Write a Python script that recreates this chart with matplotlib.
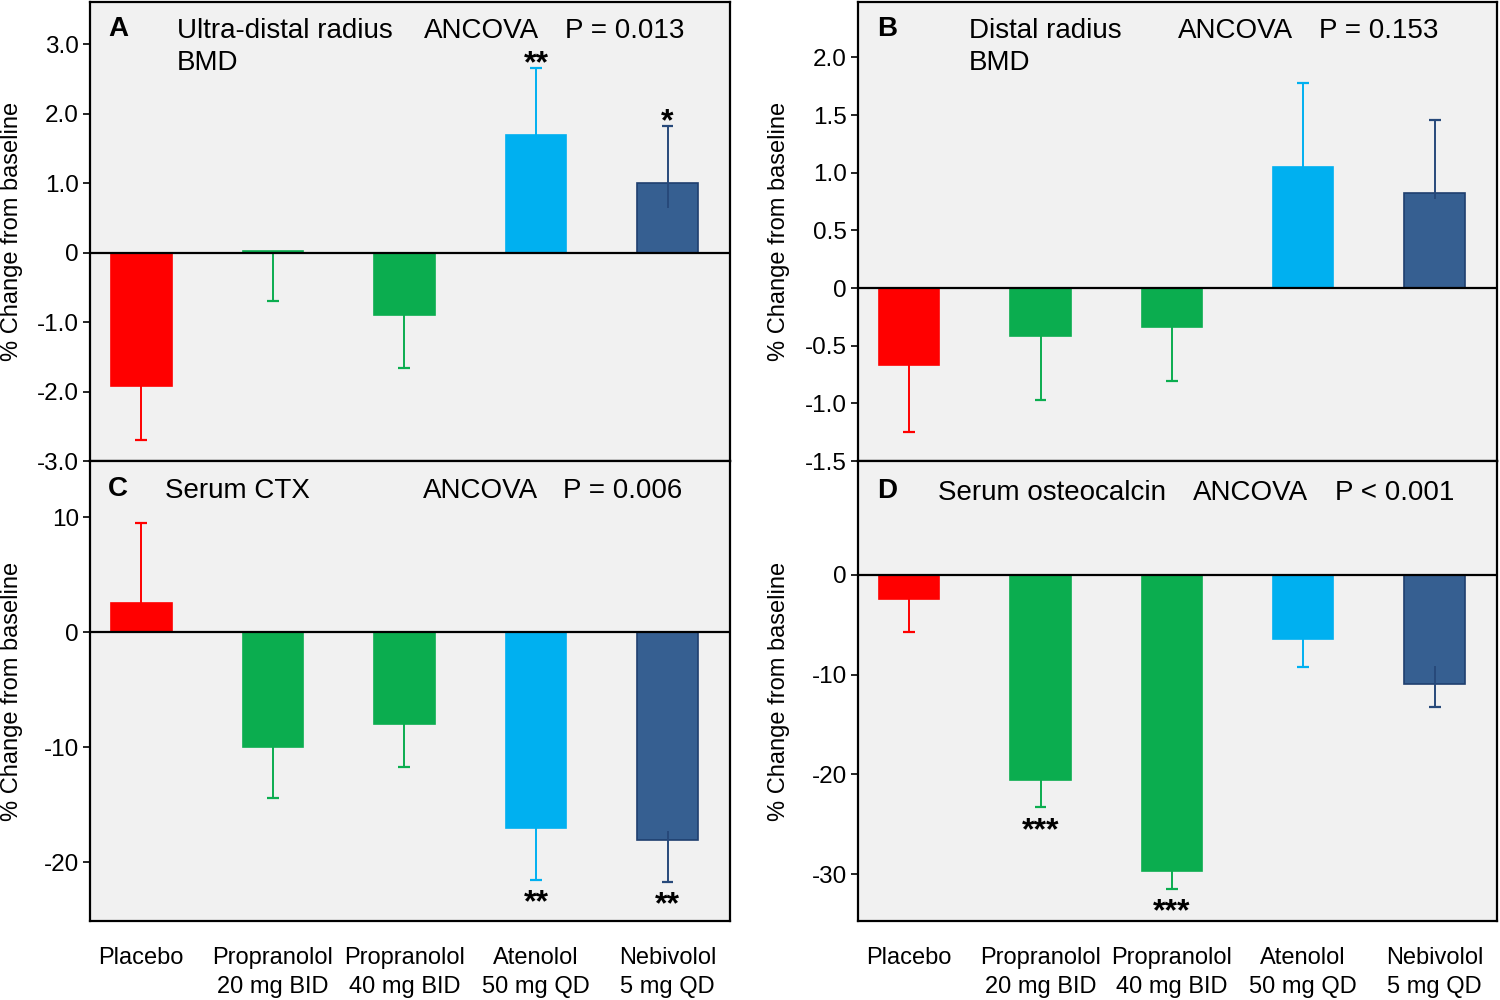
import matplotlib
matplotlib.use('Agg')
import matplotlib.pyplot as plt
import numpy as np

plt.rcParams['font.family'] = ['Liberation Sans', 'DejaVu Sans']
plt.rcParams['axes.unicode_minus'] = False

groups = ["Placebo", "Propranolol\n20 mg BID", "Propranolol\n40 mg BID",
          "Atenolol\n50 mg QD", "Nebivolol\n5 mg QD"]
bar_colors = ['#FF0000', '#0BAD4F', '#0BAD4F', '#00B0F0', '#365F91']
edge_colors = ['#FF0000', '#0BAD4F', '#0BAD4F', '#00B0F0', '#1F3F6F']
err_colors = ['#FF0000', '#0BAD4F', '#0BAD4F', '#00B0F0', '#27497A']

# Panel A: Ultra-distal radius BMD
a_vals = [-1.92, 0.03, -0.90, 1.70, 1.00]
a_minus = [0.78, 0.73, 0.76, 0.00, 0.35]
a_plus = [0.00, 0.00, 0.00, 0.96, 0.82]
a_stars = ['', '', '', '**', '*']
a_ticks = [3.0, 2.0, 1.0, 0, -1.0, -2.0, -3.0]
a_ticklabels = ['3.0', '2.0', '1.0', '0', '-1.0', '-2.0', '-3.0']

# Panel B: Distal radius BMD
b_vals = [-0.67, -0.42, -0.34, 1.045, 0.82]
b_minus = [0.58, 0.555, 0.47, 0.00, 0.05]
b_plus = [0.00, 0.00, 0.00, 0.735, 0.635]
b_stars = ['', '', '', '', '']
b_ticks = [2.0, 1.5, 1.0, 0.5, 0, -0.5, -1.0, -1.5]
b_ticklabels = ['2.0', '1.5', '1.0', '0.5', '0', '-0.5', '-1.0', '-1.5']

# Panel C: Serum CTX
c_vals = [2.5, -10.0, -8.0, -17.0, -18.1]
c_minus = [0.0, 4.4, 3.7, 4.5, 3.6]
c_plus = [7.0, 0.0, 0.0, 0.0, 0.8]
c_stars = ['', '', '', '**', '**']
c_ticks = [10, 0, -10, -20]
c_ticklabels = ['10', '0', '-10', '-20']

# Panel D: Serum osteocalcin
d_vals = [-2.4, -20.6, -29.7, -6.4, -10.9]
d_minus = [3.3, 2.7, 1.8, 2.8, 2.3]
d_plus = [0.0, 0.0, 0.0, 0.0, 1.8]
d_stars = ['', '***', '***', '', '']
d_ticks = [0, -10, -20, -30]
d_ticklabels = ['0', '-10', '-20', '-30']

W, H = 1500, 1000
fig = plt.figure(figsize=(15, 10), dpi=100)
fig.patch.set_facecolor('white')

def px(x, y):
    return x / W, 1 - y / H

rects = {
    'A': [90 / W, 1 - 461 / H, 640 / W, 459 / H],
    'B': [858 / W, 1 - 461 / H, 639 / W, 459 / H],
    'C': [90 / W, 1 - 921 / H, 640 / W, 460 / H],
    'D': [858 / W, 1 - 921 / H, 639 / W, 460 / H],
}
ylims = {'A': (-3.0, 3.61), 'B': (-1.5, 2.48), 'C': (-25.1, 14.87), 'D': (-34.7, 11.43)}

panels = {
    'A': (a_vals, a_minus, a_plus, a_stars, a_ticks, a_ticklabels),
    'B': (b_vals, b_minus, b_plus, b_stars, b_ticks, b_ticklabels),
    'C': (c_vals, c_minus, c_plus, c_stars, c_ticks, c_ticklabels),
    'D': (d_vals, d_minus, d_plus, d_stars, d_ticks, d_ticklabels),
}

x = np.arange(len(groups))
bw = 0.46
cap = 0.045

for key in ['A', 'B', 'C', 'D']:
    vals, minus, plus, stars, ticks, ticklabels = panels[key]
    ax = fig.add_axes(rects[key])
    ax.set_facecolor('#F1F1F1')
    vals = np.array(vals, dtype=float)
    lo = vals - np.array(minus)
    hi = vals + np.array(plus)
    ax.bar(x, vals, width=bw, color=bar_colors, edgecolor=edge_colors,
           linewidth=1.2, zorder=2)
    for i in range(len(x)):
        ax.vlines(x[i], lo[i], hi[i], color=err_colors[i], lw=1.4, zorder=3)
        if minus[i] > plus[i]:
            end = lo[i]
        else:
            end = hi[i]
        ax.hlines(end, x[i] - cap, x[i] + cap, color=err_colors[i], lw=1.6, zorder=3)
        if stars[i]:
            if end > 0:
                ax.annotate(stars[i], (x[i], end), xytext=(0, 3), textcoords='offset points',
                            ha='center', va='center', fontsize=23, fontweight='bold')
            else:
                ax.annotate(stars[i], (x[i], end), xytext=(0, -17), textcoords='offset points',
                            ha='center', va='center', fontsize=23, fontweight='bold')
    ax.axhline(0, color='black', lw=1.6, zorder=4)
    ax.set_xlim(-0.39, 4.475)
    ax.set_ylim(*ylims[key])
    ax.set_yticks(ticks)
    ax.set_yticklabels(ticklabels, fontsize=17.5)
    ax.tick_params(axis='y', direction='out', length=5, width=1.2, pad=3)
    for s in ax.spines.values():
        s.set_linewidth(1.6)
        s.set_color('black')
    if key in ('C', 'D'):
        ax.set_xticks(x)
        ax.set_xticklabels(groups, fontsize=17, va='top', linespacing=1.4)
        ax.tick_params(axis='x', length=0, pad=19)
    else:
        ax.set_xticks([])

# y labels
ylab = '% Change from baseline'
for xp, yp in [(12, 231), (12, 691), (779, 231), (779, 691)]:
    fx, fy = px(xp, yp)
    fig.text(fx, fy, ylab, rotation=90, ha='center', va='center', fontsize=17)

# panel titles
TFS = 20
title_specs = [
    ('A', 108, 28, 'Ultra-distal radius\nBMD', 177, 'ANCOVA', 424, 'P = 0.013', 565),
    ('B', 877, 28, 'Distal radius\nBMD', 969, 'ANCOVA', 1178, 'P = 0.153', 1319),
    ('C', 108, 488, 'Serum CTX', 165, 'ANCOVA', 423, 'P = 0.006', 563),
    ('D', 877, 490, 'Serum osteocalcin', 938, 'ANCOVA', 1193, 'P < 0.001', 1335),
]
for letter, lx, ly, name, nx, anc, axp, ptxt, ppx in title_specs:
    fx, fy = px(lx, ly + 1)
    fig.text(fx, fy, letter, fontsize=TFS, fontweight='bold', ha='left', va='center')
    fx, fy = px(nx, ly - 10)
    fig.text(fx, fy, name, fontsize=TFS, ha='left', va='top', linespacing=1.28)
    fx, fy = px(axp, ly + 3)
    fig.text(fx, fy, anc, fontsize=TFS, ha='left', va='center')
    fx, fy = px(ppx, ly + 3)
    fig.text(fx, fy, ptxt, fontsize=TFS, ha='left', va='center')

fig.savefig('out.png', dpi=100)
